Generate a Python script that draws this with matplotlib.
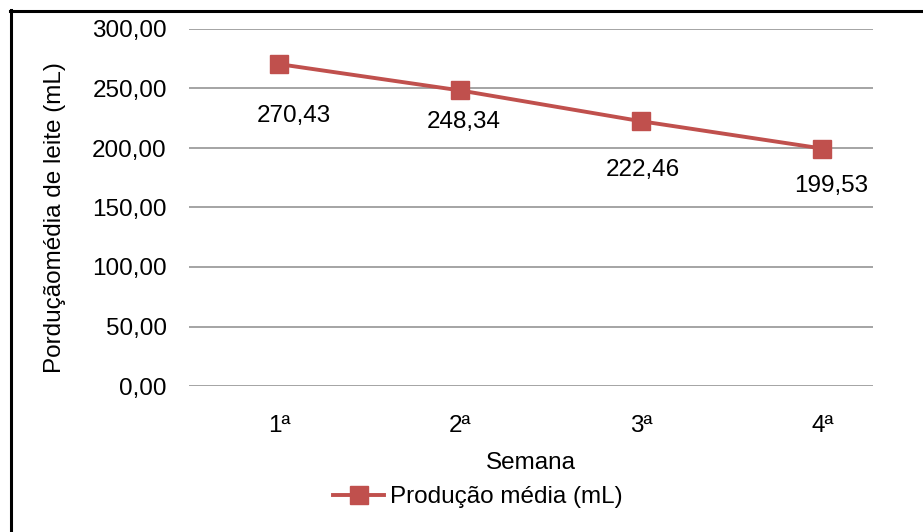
import matplotlib
matplotlib.use("Agg")
import matplotlib.pyplot as plt
from matplotlib.lines import Line2D
from matplotlib.ticker import FuncFormatter

plt.rcParams["font.family"] = ["Liberation Sans", "DejaVu Sans"]

semanas = ["1ª", "2ª", "3ª", "4ª"]
producao = [270.43, 248.34, 222.46, 199.53]
rotulos = ["270,43", "248,34", "222,46", "199,53"]
yticks = [0, 50, 100, 150, 200, 250, 300]

# where each value label sits relative to its marker (pixels)
label_offsets = [(14, -52), (3, -32), (1, -49), (9, -37)]

cor = "#C0504D"
fs = 17.5

fig = plt.figure(figsize=(9.23, 5.32), dpi=100)
ax = fig.add_axes([189 / 923, 1 - 386 / 532, 684 / 923, 357 / 532])

x = list(range(len(semanas)))
ax.plot(x, producao, color=cor, lw=2.8, marker="s", ms=12.5,
        label="Produção média (mL)", zorder=3)

for xi, yi, txt, (dx, dy) in zip(x, producao, rotulos, label_offsets):
    ax.annotate(txt, (xi, yi), xytext=(dx, dy), textcoords="offset pixels",
                ha="center", va="center", fontsize=fs, color="black")

ax.set_xlim(-0.5, 3.28)
ax.set_ylim(0, 300)
ax.set_yticks(yticks)
ax.yaxis.set_major_formatter(FuncFormatter(lambda v, p: f"{v:.2f}".replace(".", ",")))
ax.set_xticks(x)
ax.set_xticklabels(semanas)
ax.tick_params(axis="both", length=0, labelsize=fs, colors="black")
ax.tick_params(axis="y", pad=16)
ax.tick_params(axis="x", pad=21)
ax.grid(axis="y", color="#8c8c8c", lw=1.1)
ax.set_axisbelow(True)
for s in ax.spines.values():
    s.set_visible(False)

ax.set_xlabel("Semana", fontsize=fs)
ax.xaxis.set_label_coords(0.5, (386 - 463) / 357)
ax.xaxis.label.set_va("center")
ax.set_ylabel("Porduçãomédia de leite (mL)", fontsize=fs)
ax.yaxis.set_label_coords((55 - 189) / 684, (386 - 218) / 357)
ax.yaxis.label.set_va("center")

fig.legend(loc="center", bbox_to_anchor=(478 / 923, 1 - 497 / 532),
           frameon=False, fontsize=fs, handlelength=2.1, handletextpad=0.25)

# outer frame of the chart area
fig.add_artist(Line2D([11 / 923, 11 / 923], [0, 1 - 10 / 532],
                      transform=fig.transFigure, color="black", lw=2.2))
fig.add_artist(Line2D([10 / 923, 1], [1 - 11 / 532, 1 - 11 / 532],
                      transform=fig.transFigure, color="black", lw=2.2))

fig.savefig("out.png", dpi=100)
